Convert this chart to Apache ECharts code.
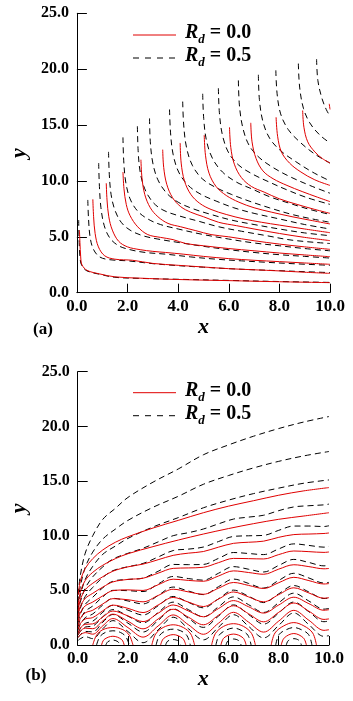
<!DOCTYPE html>
<html><head><meta charset="utf-8">
<script src="https://cdn.jsdelivr.net/npm/echarts@6/dist/echarts.min.js"></script>
<style>html,body{margin:0;padding:0;background:#fff}#c{width:353px;height:701px}</style>
</head><body><div id="c"></div>
<script>
// ---------- tick labels ----------
const xTickLabels = ['0.0','2.0','4.0','6.0','8.0','10.0'];
const yTickLabels = ['0.0','5.0','10.0','15.0','20.0','25.0'];
const legendValues = ['0.0','0.5'];
const panelTags = ['(a)','(b)'];

// ---------- panel (a): Rd = 0.0 (red solid) ----------
const aRd0_1 = [[0.1,5.6],[0.12,4.5],[0.15,3.2],[0.2,2.5],[0.4,2.0],[0.9,1.68],[1.5,1.42],[2.5,1.3],[4,1.18],[6,1.08],[8,0.98],[10,0.9]];
const aRd0_2 = [[0.63,8.36],[0.66,6.8],[0.72,5.3],[0.85,4.1],[1.1,3.3],[1.5,3.0],[2.2,2.9],[3,2.62],[4,2.45],[5,2.3],[6,2.15],[7,2.05],[8,1.95],[9,1.83],[10,1.73]];
const aRd0_3 = [[1.16,9.8],[1.19,8.3],[1.26,6.8],[1.4,5.6],[1.65,4.6],[2.0,4.1],[2.5,3.85],[3,3.7],[3.5,3.6],[4.2,3.45],[5,3.25],[6,3.05],[7,2.9],[8,2.78],[9,2.66],[10,2.54]];
const aRd0_4 = [[1.82,10.8],[1.86,9.3],[1.95,7.9],[2.1,6.9],[2.4,5.9],[2.8,5.2],[3.3,4.95],[3.8,4.75],[4.3,4.4],[5,4.2],[6,3.95],[7,3.75],[8,3.55],[9,3.38],[10,3.22]];
const aRd0_5 = [[2.53,11.9],[2.57,10.3],[2.68,8.8],[2.9,7.6],[3.2,6.8],[3.6,6.2],[4.1,5.9],[4.7,5.55],[5.3,5.2],[6,5.0],[7,4.65],[8,4.35],[9,4.1],[10,3.88]];
const aRd0_6 = [[3.39,12.8],[3.43,11.2],[3.55,9.7],[3.78,8.5],[4.1,7.7],[4.5,7.2],[5.0,6.8],[5.6,6.3],[6.3,6.0],[7,5.7],[8,5.3],[9,4.95],[10,4.66]];
const aRd0_7 = [[4.08,13.4],[4.12,11.6],[4.25,10.0],[4.5,8.8],[4.85,8.0],[5.3,7.45],[5.9,7.0],[6.6,6.6],[7.3,6.3],[8,6.05],[9,5.7],[10,5.37]];
const aRd0_8 = [[5.03,14.1],[5.08,12.3],[5.22,10.7],[5.5,9.5],[5.9,8.7],[6.4,8.1],[7,7.6],[7.7,7.2],[8.5,6.8],[9.3,6.45],[10,6.15]];
const aRd0_9 = [[6.03,14.8],[6.08,13.0],[6.22,11.5],[6.5,10.3],[6.9,9.5],[7.4,9.0],[8,8.4],[8.7,7.9],[9.4,7.45],[10,7.1]];
const aRd0_10 = [[6.87,15.2],[6.92,13.5],[7.08,12.0],[7.35,10.9],[7.75,10.2],[8.3,9.6],[8.9,9.05],[9.5,8.55],[10,8.15]];
const aRd0_11 = [[7.87,15.7],[7.93,14.0],[8.08,12.6],[8.4,11.6],[8.85,10.8],[9.4,10.1],[10,9.6]];
const aRd0_12 = [[8.92,16.3],[8.97,14.8],[9.12,13.5],[9.4,12.6],[9.7,12.0],[10,11.6]];
const aRd0_13 = [[9.97,16.9],[10,16.4]];

// ---------- panel (a): Rd = 0.5 (black dashed) ----------
const aRd5_1 = [[0.07,6.5],[0.09,4.5],[0.13,3.0],[0.2,2.4],[0.4,1.95],[0.9,1.65],[1.5,1.38],[2.5,1.28],[4,1.2],[6,1.1],[8,1.0],[10,0.92]];
const aRd5_2 = [[0.43,8.3],[0.46,6.6],[0.52,5.0],[0.65,3.9],[0.9,3.2],[1.3,2.95],[2,2.85],[3,2.6],[4,2.42],[5,2.28],[6,2.15],[7,2.05],[8,1.97],[9,1.88],[10,1.8]];
const aRd5_3 = [[0.86,11.6],[0.89,9.5],[0.95,7.6],[1.08,6.0],[1.3,4.9],[1.65,4.2],[2.1,3.85],[2.7,3.6],[3.5,3.45],[4.5,3.2],[5.5,3.0],[6.5,2.85],[7.5,2.72],[8.5,2.6],[10,2.45]];
const aRd5_4 = [[1.25,12.6],[1.28,10.6],[1.35,8.8],[1.5,7.4],[1.75,6.3],[2.1,5.6],[2.6,5.1],[3.2,4.8],[4,4.5],[5,4.15],[6,3.85],[7,3.6],[8,3.4],[9,3.25],[10,3.1]];
const aRd5_5 = [[1.82,13.9],[1.85,11.8],[1.93,9.9],[2.1,8.4],[2.4,7.3],[2.8,6.6],[3.3,6.1],[4,5.7],[5,5.2],[6,4.8],[7,4.45],[8,4.2],[9,3.95],[10,3.75]];
const aRd5_6 = [[2.39,14.9],[2.42,12.7],[2.5,10.8],[2.68,9.3],[3.0,8.1],[3.4,7.4],[4,6.9],[4.8,6.4],[5.6,5.9],[6.5,5.5],[7.5,5.1],[8.5,4.7],[10,4.4]];
const aRd5_7 = [[2.87,15.6],[2.9,13.5],[3.0,11.6],[3.2,10.1],[3.55,8.9],[4.0,8.1],[4.6,7.5],[5.3,7.0],[6.1,6.5],[7,6.1],[8,5.7],[9,5.35],[10,5.1]];
const aRd5_8 = [[3.66,16.4],[3.7,14.3],[3.8,12.4],[4.02,10.8],[4.4,9.6],[4.9,8.8],[5.5,8.2],[6.2,7.6],[7,7.1],[8,6.6],[9,6.1],[10,5.7]];
const aRd5_9 = [[4.18,17.1],[4.22,15.0],[4.33,13.0],[4.56,11.4],[4.95,10.2],[5.5,9.4],[6.1,8.8],[6.8,8.2],[7.6,7.6],[8.5,7.0],[9.3,6.6],[10,6.3]];
const aRd5_10 = [[4.97,17.8],[5.01,15.6],[5.12,13.6],[5.36,12.0],[5.75,10.8],[6.3,9.9],[6.9,9.3],[7.6,8.6],[8.4,8.0],[9.2,7.45],[10,7.0]];
const aRd5_11 = [[5.59,18.3],[5.63,16.1],[5.75,14.1],[6.0,12.5],[6.4,11.4],[6.95,10.6],[7.6,9.9],[8.3,9.2],[9.1,8.5],[10,7.9]];
const aRd5_12 = [[6.38,19.0],[6.42,16.8],[6.55,14.8],[6.8,13.2],[7.2,12.1],[7.75,11.2],[8.4,10.4],[9.2,9.6],[10,8.9]];
const aRd5_13 = [[7.17,19.5],[7.21,17.3],[7.35,15.3],[7.62,13.8],[8.05,12.7],[8.6,11.8],[9.3,10.8],[10,10.0]];
const aRd5_14 = [[7.86,19.9],[7.91,17.8],[8.05,16.0],[8.35,14.6],[8.8,13.5],[9.4,12.4],[10,11.6]];
const aRd5_15 = [[8.75,20.5],[8.8,18.4],[8.95,16.5],[9.2,15.2],[9.6,14.1],[10,13.4]];
const aRd5_16 = [[9.47,20.9],[9.52,19.0],[9.68,17.4],[9.85,16.4],[10,15.8]];

// ---------- panel (b): upper smooth lines ----------
const bX = [0.02,0.1,0.3,0.6,1,1.5,2,3,4,5,6,7,8,9,10];
const bRd0_1 = [4.6,5.8,7.0,7.9,8.7,9.4,9.9,10.7,11.4,12.1,12.7,13.2,13.7,14.1,14.4];
const bRd0_2 = [3.6,4.8,5.9,6.65,7.3,7.9,8.35,9.0,9.6,10.15,10.65,11.1,11.5,11.8,12.1];
const bRd5_1 = [4.6,6.3,8.4,10.0,11.5,12.5,13.5,14.9,16.1,17.4,18.3,19.1,19.8,20.4,20.9];
const bRd5_2 = [3.9,5.3,7.1,8.5,9.7,10.6,11.4,12.6,13.6,14.7,15.5,16.2,16.8,17.3,17.7];
const bRd5_3 = [3.3,4.5,6.0,7.2,8.3,9.05,9.75,10.8,11.65,12.55,13.25,13.85,14.35,14.8,15.1];

// ---------- panel (b): wavy lines ----------
const bWX = [0.02,0.1,0.3,0.6,1.0,1.4,2.0,2.6,3.2,3.8,4.4,5.0,5.6,6.2,6.8,7.4,8.0,8.6,9.2,9.8,10];
const bRd0_3 = [3.1,4.1,5.05,5.65,6.25,6.75,7.15,7.4,7.8,8.2,8.4,8.55,8.95,9.3,9.4,9.5,9.85,10.1,10.15,10.2,10.25];
const bRd0_4 = [2.6,3.5,4.26,4.73,5.3,5.77,6.0,6.11,6.57,7.01,7.05,7.11,7.53,7.92,7.9,7.87,8.27,8.6,8.54,8.47,8.51];
const bRd0_5 = [2.19,2.92,3.58,3.93,4.5,4.97,5.04,4.99,5.51,6.02,5.91,5.83,6.31,6.78,6.63,6.47,6.94,7.34,7.17,6.97,7.0];
const bRd0_6 = [1.8,2.4,2.94,3.18,3.76,4.24,4.14,3.95,4.53,5.1,4.86,4.64,5.19,5.72,5.45,5.17,5.7,6.19,5.89,5.58,5.62];
const bRd0_7 = [1.46,1.94,2.38,2.51,3.13,3.65,3.35,2.97,3.66,4.35,3.93,3.52,4.2,4.85,4.4,3.95,4.61,5.23,4.76,4.28,4.33];
const bRd0_8 = [1.16,1.54,1.89,1.93,2.57,3.11,2.66,2.14,2.91,3.66,3.12,2.58,3.33,4.06,3.5,2.92,3.66,4.37,3.78,3.18,3.23];
const bRd0_9 = [0.95,1.26,1.54,1.49,2.21,2.82,2.17,1.48,2.38,3.27,2.55,1.85,2.72,3.59,2.86,2.12,2.99,3.84,3.09,2.34,2.39];
const bRd0_10 = [0.69,0.92,1.13,0.99,1.76,2.42,1.59,0.72,1.74,2.75,1.86,0.98,1.99,2.99,2.09,1.18,2.19,3.17,2.26,1.34,1.4];
const bRd5_4 = [2.86,3.9,5.2,6.24,7.15,7.86,8.39,8.85,9.43,10.0,10.27,10.61,11.08,11.52,11.7,11.87,12.29,12.63,12.74,12.82,12.89];
const bRd5_5 = [2.44,3.33,4.44,5.27,6.19,6.8,7.16,7.46,8.05,8.64,8.77,8.96,9.46,9.93,9.99,10.03,10.49,10.88,10.88,10.84,10.91];
const bRd5_6 = [2.05,2.79,3.72,4.37,5.24,5.83,6.0,6.12,6.74,7.37,7.35,7.37,7.92,8.46,8.37,8.27,8.79,9.25,9.11,8.95,9.02];
const bRd5_7 = [1.69,2.31,3.08,3.57,4.41,5.0,4.97,4.89,5.58,6.27,6.08,5.93,6.56,7.17,6.93,6.68,7.28,7.83,7.55,7.24,7.3];
const bRd5_8 = [1.38,1.88,2.5,2.84,3.66,4.27,4.03,3.76,4.53,5.3,4.94,4.61,5.33,6.03,5.63,5.21,5.91,6.56,6.13,5.67,5.73];
const bRd5_9 = [1.09,1.49,1.98,2.18,3.0,3.63,3.19,2.74,3.59,4.44,3.91,3.4,4.22,5.02,4.46,3.88,4.68,5.44,4.85,4.25,4.3];
const bRd5_10 = [0.9,1.23,1.64,1.73,2.58,3.24,2.64,2.03,2.97,3.92,3.24,2.58,3.49,4.4,3.69,2.98,3.87,4.74,4.02,3.28,3.34];
const bRd5_11 = [0.68,0.93,1.24,1.2,2.09,2.79,2.0,1.19,2.25,3.31,2.45,1.61,2.64,3.67,2.79,1.91,2.93,3.93,3.04,2.13,2.2];
const bRd5_12 = [0.42,0.57,0.76,0.58,1.49,2.23,1.23,0.21,1.38,2.54,1.5,0.47,1.62,2.77,1.71,0.65,1.8,2.93,1.86,0.79,0.86];

// ---------- panel (b): closed cells near the wall ----------
const bRd0_cells = [
  [[0.6,0],[0.75,0.9],[1.0,1.4],[1.4,1.6],[1.8,1.4],[2.05,0.9],[2.2,0]],
  [[0.95,0],[1.05,0.5],[1.4,0.8],[1.75,0.5],[1.85,0]],
  [[2.95,0],[3.1,1.0],[3.4,1.6],[3.8,1.85],[4.2,1.6],[4.5,1.0],[4.65,0]],
  [[3.3,0],[3.42,0.6],[3.8,0.95],[4.18,0.6],[4.3,0]],
  [[5.33,0],[5.48,1.05],[5.8,1.7],[6.2,1.95],[6.6,1.7],[6.92,1.05],[7.07,0]],
  [[5.7,0],[5.82,0.65],[6.2,1.0],[6.58,0.65],[6.7,0]],
  [[7.7,0],[7.85,1.1],[8.2,1.75],[8.6,2.05],[9.0,1.75],[9.35,1.1],[9.5,0]],
  [[8.1,0],[8.22,0.65],[8.6,1.05],[8.98,0.65],[9.1,0]]
];
const bRd5_cells = [
  [[0.75,0],[0.88,0.75],[1.1,1.15],[1.4,1.3],[1.7,1.15],[1.92,0.75],[2.05,0]],
  [[1.12,0],[1.2,0.3],[1.4,0.45],[1.6,0.3],[1.68,0]],
  [[3.12,0],[3.25,0.85],[3.5,1.3],[3.8,1.45],[4.1,1.3],[4.35,0.85],[4.48,0]],
  [[3.5,0],[3.58,0.35],[3.8,0.5],[4.02,0.35],[4.1,0]],
  [[5.5,0],[5.63,0.9],[5.9,1.35],[6.2,1.55],[6.5,1.35],[6.77,0.9],[6.9,0]],
  [[5.9,0],[5.98,0.38],[6.2,0.55],[6.42,0.38],[6.5,0]],
  [[7.88,0],[8.01,0.95],[8.3,1.4],[8.6,1.6],[8.9,1.4],[9.19,0.95],[9.32,0]],
  [[8.3,0],[8.38,0.4],[8.6,0.58],[8.82,0.4],[8.9,0]]
];

// ---------- assemble ----------
const RED = '#e00000';
const FONT = '"Liberation Serif", "Times New Roman", serif';
const zip = (xs, ys) => ys.map((y, i) => [xs[i], y]);

const aRed = [aRd0_1,aRd0_2,aRd0_3,aRd0_4,aRd0_5,aRd0_6,aRd0_7,aRd0_8,aRd0_9,aRd0_10,aRd0_11,aRd0_12,aRd0_13];
const aBlk = [aRd5_1,aRd5_2,aRd5_3,aRd5_4,aRd5_5,aRd5_6,aRd5_7,aRd5_8,aRd5_9,aRd5_10,aRd5_11,aRd5_12,aRd5_13,aRd5_14,aRd5_15,aRd5_16];
const bRed = [zip(bX,bRd0_1), zip(bX,bRd0_2)]
  .concat([bRd0_3,bRd0_4,bRd0_5,bRd0_6,bRd0_7,bRd0_8,bRd0_9,bRd0_10].map(v => zip(bWX, v)))
  .concat(bRd0_cells);
const bBlk = [zip(bX,bRd5_1), zip(bX,bRd5_2), zip(bX,bRd5_3)]
  .concat([bRd5_4,bRd5_5,bRd5_6,bRd5_7,bRd5_8,bRd5_9,bRd5_10,bRd5_11,bRd5_12].map(v => zip(bWX, v)))
  .concat(bRd5_cells);

function mk(data, g, fam) {
  return {
    type: 'line', xAxisIndex: g, yAxisIndex: g, data, smooth: 0.35,
    symbol: 'none', silent: true, animation: false,
    lineStyle: fam === 0 ? { color: RED, width: 1 } : { color: '#000', width: 1, type: [6, 4] },
    z: fam === 0 ? 3 : 2
  };
}
const series = [];
aBlk.forEach(d => series.push(mk(d, 0, 1)));
aRed.forEach(d => series.push(mk(d, 0, 0)));
bBlk.forEach(d => series.push(mk(d, 1, 1)));
bRed.forEach(d => series.push(mk(d, 1, 0)));

const nameStyle = { fontFamily: FONT, fontSize: 22, fontStyle: 'italic', fontWeight: 'bold', color: '#000' };
function xA(g, gap) {
  return {
    type: 'value', gridIndex: g, min: 0, max: 10, interval: 2,
    name: 'x', nameLocation: 'middle', nameGap: gap, nameTextStyle: nameStyle,
    axisLine: { show: true, onZero: false, lineStyle: { color: '#000', width: 1 } },
    axisTick: { show: true, inside: true, length: 9, lineStyle: { color: '#000' } },
    axisLabel: { margin: 5, fontFamily: FONT, fontSize: 17, fontWeight: 'bold', color: '#000',
      formatter: (v) => xTickLabels[Math.round(v / 2)] },
    splitLine: { show: false }
  };
}
function yA(g, gap) {
  return {
    type: 'value', gridIndex: g, min: 0, max: 25, interval: 5,
    name: 'y', nameLocation: 'middle', nameGap: gap, nameTextStyle: nameStyle,
    axisLine: { show: true, lineStyle: { color: '#000', width: 1 } },
    axisTick: { show: true, inside: true, length: 10, lineStyle: { color: '#000' } },
    axisLabel: { margin: 8, fontFamily: FONT, fontSize: 16, fontWeight: 'bold', color: '#000',
      formatter: (v) => yTickLabels[Math.round(v / 5)] },
    splitLine: { show: false }
  };
}

const rich = {
  r: { fontFamily: FONT, fontSize: 20, fontStyle: 'italic', fontWeight: 'bold', color: '#000', lineHeight: 22 },
  d: { fontFamily: FONT, fontSize: 13, fontStyle: 'italic', fontWeight: 'bold', color: '#000', lineHeight: 22, padding: [14, 0, 0, 0] },
  t: { fontFamily: FONT, fontSize: 20, fontWeight: 'bold', color: '#000', lineHeight: 22 }
};
function legendGroup(y0) {
  const els = [];
  [0, 1].forEach(i => {
    const y = y0 + i * 23;
    els.push({ type: 'line', shape: { x1: 133, y1: y, x2: 176, y2: y },
      style: i === 0 ? { stroke: RED, lineWidth: 1 } : { stroke: '#000', lineWidth: 1, lineDash: [6, 6] } });
    els.push({ type: 'text', x: 185, y: y - 2,
      style: { text: '{r|R}{d|d}{t| = ' + legendValues[i] + '}', rich, verticalAlign: 'middle', align: 'left' } });
  });
  return els;
}

const chart = echarts.init(document.getElementById('c'), null, { renderer: 'canvas' });
chart.setOption({
  animation: false,
  backgroundColor: '#fff',
  grid: [
    { left: 76.7, top: 13.3, width: 253.3, height: 279.4 },
    { left: 77.7, top: 371.7, width: 251.3, height: 273.3 }
  ],
  xAxis: [xA(0, 24), xA(1, 20)],
  yAxis: [yA(0, 43), yA(1, 42)],
  series,
  graphic: legendGroup(35).concat(legendGroup(392.7)).concat([
    { type: 'text', x: 43, y: 330, style: { text: panelTags[0], fontFamily: FONT, fontSize: 17, fontWeight: 'bold', fill: '#000', align: 'center', verticalAlign: 'middle' } },
    { type: 'text', x: 36, y: 676, style: { text: panelTags[1], fontFamily: FONT, fontSize: 17, fontWeight: 'bold', fill: '#000', align: 'center', verticalAlign: 'middle' } }
  ])
});
</script>
</body></html>
